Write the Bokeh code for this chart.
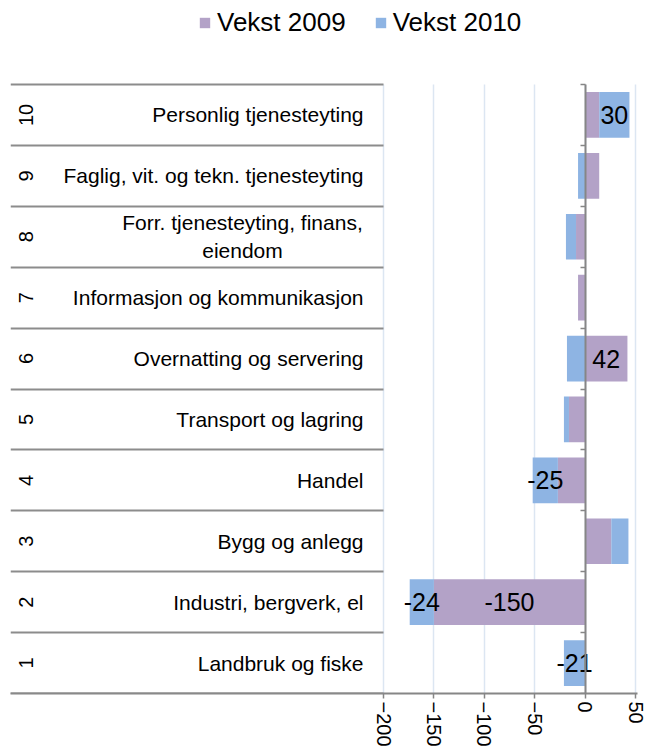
import numpy as np
from bokeh.plotting import figure
from bokeh.models import (ColumnDataSource, Range1d, LinearAxis, FixedTicker,
                          CustomJSTickFormatter, Legend, LegendItem)
from bokeh.core.properties import value
from bokeh.embed import file_html
from bokeh.resources import INLINE

# ---------------- data ----------------
numbers = ["1", "2", "3", "4", "5", "6", "7", "8", "9", "10"]
categories = [
    "Landbruk og fiske",
    "Industri, bergverk, el",
    "Bygg og anlegg",
    "Handel",
    "Transport og lagring",
    "Overnatting og servering",
    "Informasjon og kommunikasjon",
    "Forr. tjenesteyting, finans,\neiendom",
    "Faglig, vit. og tekn. tjenesteyting",
    "Personlig tjenesteyting",
]
vekst_2009 = [0, -150, 26, -27, -16, 42, -7, -9, 14, 14]
vekst_2010 = [-21, -24, 17, -25, -5, -18, 0, -10, -7, 30]
labelled_2009 = [False, True, False, False, False, True, False, False, False, False]
labelled_2010 = [True, True, False, True, False, False, False, False, False, True]
x_ticks = [-200, -150, -100, -50, 0, 50]
series_names = ["Vekst 2009", "Vekst 2010"]

# ---------------- layout (figure pixels) ----------------
W, H = 647, 749
FRAME_L, FRAME_R = 10, 637
FRAME_T, FRAME_B = 0, 693        # frame also holds the legend strip at the top
CAT_T = 84                       # top of the category area
X0_PX, X1_PX = 383, 635          # pixel positions of first / last value tick
scale = (X1_PX - X0_PX) / (x_ticks[-1] - x_ticks[0])
x_start = x_ticks[0] - (X0_PX - FRAME_L) / scale
x_end = x_ticks[-1] + (FRAME_R - X1_PX) / scale

C09, C10 = "#B3A2C7", "#8EB4E3"
AXIS_GREY = "#868686"
GRID = "#DCE6F2"
FONT = "Liberation Sans"

# ---------------- stacking (Excel-style: positives and negatives stacked separately) ----
n = len(categories)
y_end = n * (FRAME_B - FRAME_T) / (FRAME_B - CAT_T)
ypos = np.arange(n) + 0.5            # category slots, bottom to top
v9 = np.array(vekst_2009, dtype=float)
v10 = np.array(vekst_2010, dtype=float)
l9, r9 = np.minimum(0, v9), np.maximum(0, v9)
base10 = np.where(np.sign(v10) == np.sign(v9), v9, 0.0)
l10, r10 = np.minimum(base10, base10 + v10), np.maximum(base10, base10 + v10)

src = ColumnDataSource(dict(y=ypos, cat=categories, num=numbers,
                            l9=l9, r9=r9, l10=l10, r10=r10))

p = figure(width=W, height=H,
           x_range=Range1d(x_start, x_end), y_range=Range1d(0, y_end),
           output_backend="svg", toolbar_location=None, y_axis_location=None,
           min_border_left=FRAME_L, min_border_right=W - FRAME_R,
           min_border_top=FRAME_T, min_border_bottom=H - FRAME_B,
           background_fill_color="white", border_fill_color="white")
p.outline_line_color = None
p.xgrid.visible = False
p.ygrid.visible = False

blank = CustomJSTickFormatter(code="return ''")
ticker = FixedTicker(ticks=x_ticks)
bounds_ticker = FixedTicker(ticks=list(range(n + 1)))

# value axis (the figure's own bottom axis)
xa = p.below[0]
xa.ticker = ticker
xa.axis_line_color = AXIS_GREY
xa.axis_line_width = 2
xa.major_tick_line_color = AXIS_GREY
xa.major_tick_line_width = 1.5
xa.major_tick_out = 5
xa.major_tick_in = 0
xa.minor_tick_line_color = None
xa.major_label_orientation = "vertical"
xa.major_label_text_font = FONT
xa.major_label_text_font_size = "20px"
xa.major_label_text_color = "black"
xa.major_label_standoff = 3

# vertical gridlines limited to the category area (drawn under the bars)
grid_axis = LinearAxis(ticker=ticker, formatter=blank, fixed_location=n,
                       major_tick_in=FRAME_B - CAT_T, major_tick_out=0,
                       major_label_standoff=0, major_label_text_font_size="0px",
                       axis_line_color=None, major_tick_line_color=GRID,
                       major_tick_line_width=1.5, minor_tick_line_color=None,
                       level="underlay")
p.add_layout(grid_axis, "above")

# bars
bar9 = p.hbar(y="y", left="l9", right="r9", height=0.75, source=src,
              fill_color=C09, line_color=None)
bar10 = p.hbar(y="y", left="l10", right="r10", height=0.75, source=src,
               fill_color=C10, line_color=None)

# category axis line at zero with short ticks at category boundaries
zero_axis = LinearAxis(ticker=bounds_ticker, formatter=blank, bounds=(0, n),
                       fixed_location=0, major_tick_in=5, major_tick_out=0,
                       major_label_standoff=0, major_label_text_font_size="0px",
                       axis_line_color=AXIS_GREY, axis_line_width=2,
                       major_tick_line_color=AXIS_GREY, major_tick_line_width=1.5,
                       minor_tick_line_color=None)
p.add_layout(zero_axis, "right")

# separator lines of the (multi-level) category label table
sep_axis = LinearAxis(ticker=bounds_ticker, formatter=blank,
                      fixed_location=x_ticks[0], major_tick_in=X0_PX - FRAME_L,
                      major_tick_out=0, major_label_standoff=0,
                      major_label_text_font_size="0px",
                      axis_line_color=None,
                      major_tick_line_color="#8C8C8C", major_tick_line_width=2,
                      minor_tick_line_color=None)
p.add_layout(sep_axis, "right")

# category labels (inner level)
aligns = ["center" if "\n" in c else "right" for c in categories]
xoffs = [-20 - 121 if "\n" in c else -20 for c in categories]
lab_src = ColumnDataSource(dict(y=ypos, cat=categories, num=numbers,
                                x=[x_ticks[0]] * n, x0=[x_start] * n,
                                align=aligns, xoff=xoffs))
p.text(x="x", y="y", text="cat", source=lab_src, x_offset="xoff",
       text_align="align", text_baseline="middle",
       text_font=value(FONT), text_font_size="21px", text_color="black",
       text_line_height=1.2)
# outer level numbers (rotated)
p.text(x="x0", y="y", text="num", source=lab_src, x_offset=15, angle=np.pi / 2,
       text_align="center", text_baseline="middle",
       text_font=value(FONT), text_font_size="20px", text_color="black")

# data labels
def label_source(flags, left, right, vals):
    idx = [i for i, f in enumerate(flags) if f]
    return ColumnDataSource(dict(y=ypos[idx],
                                 x=(left[idx] + right[idx]) / 2,
                                 t=[f"{vals[i]:g}" for i in idx]))

for ds in (label_source(labelled_2009, l9, r9, vekst_2009),
           label_source(labelled_2010, l10, r10, vekst_2010)):
    p.text(x="x", y="y", text="t", source=ds, text_align="center",
           text_baseline="middle", text_font=value(FONT),
           text_font_size="25px", text_color="black")

# legend in the top strip
legend = Legend(items=[LegendItem(label=series_names[0], renderers=[bar9]),
                       LegendItem(label=series_names[1], renderers=[bar10])],
                orientation="horizontal", location=(188, FRAME_B - 38),
                glyph_width=13, glyph_height=13, label_standoff=6, spacing=28,
                padding=0, margin=0, border_line_color=None,
                background_fill_alpha=0,
                label_text_font=FONT, label_text_font_size="26px",
                label_text_color="black")
p.add_layout(legend)

open("out.html", "w").write(file_html(p, INLINE))
